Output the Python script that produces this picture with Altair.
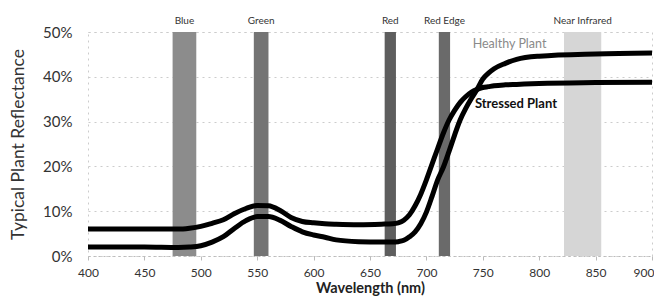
import altair as alt
import pandas as pd

# Wavelengths (nm) at which the two curves were read
wavelength = [400, 450, 480, 490, 500, 510, 520, 530, 540, 550, 560, 570, 580, 590,
              600, 610, 620, 640, 660, 670, 675, 680, 685, 690, 695, 700, 705, 710,
              715, 720, 725, 730, 735, 740, 745, 750, 755, 760, 770, 780, 800, 850, 900]

# Reflectance (%)
stressed = [6.0, 6.0, 6.0, 6.2, 6.6, 7.3, 8.1, 9.5, 10.6, 11.3, 11.2, 10.2, 8.6, 7.7,
            7.4, 7.2, 7.1, 7.0, 7.1, 7.2, 7.4, 8.0, 9.2, 11.2, 13.8, 17.0, 20.5, 24.0,
            27.4, 30.3, 32.5, 34.3, 35.6, 36.6, 37.2, 37.6, 37.8, 38.0, 38.2, 38.3, 38.5, 38.7, 38.8]

healthy = [2.0, 2.0, 1.9, 2.0, 2.3, 3.1, 4.3, 6.2, 7.9, 8.8, 8.8, 8.0, 6.6, 5.4,
           4.7, 4.2, 3.6, 3.2, 3.1, 3.1, 3.2, 3.5, 4.3, 5.4, 7.2, 9.8, 13.3, 17.0,
           19.8, 23.3, 27.0, 30.4, 33.0, 35.2, 37.2, 39.5, 40.8, 41.8, 43.0, 43.9, 44.6, 45.1, 45.3]

# Spectral bands
band_names = ["Blue", "Green", "Red", "Red Edge", "Near Infrared"]
band_start = [475, 547, 663, 711, 822]
band_end = [496, 560, 673, 721, 855]
band_colors = ["#8c8c8c", "#747474", "#5e5e5e", "#6a6a6a", "#d6d6d6"]

# Curve labels
healthy_label = ["Healthy Plant"]
healthy_label_x = [741]
healthy_label_y = [47.3]
stressed_label = ["Stressed Plant"]
stressed_label_x = [743]
stressed_label_y = [34.0]

x_ticks = [400, 450, 500, 550, 600, 650, 700, 750, 800, 850, 900]

FONT = "Lato"

curves = pd.DataFrame({
    "wavelength": wavelength * 2,
    "reflectance": stressed + healthy,
    "plant": ["Stressed Plant"] * len(wavelength) + ["Healthy Plant"] * len(wavelength),
})
bands = pd.DataFrame({"band": band_names, "start": band_start, "end": band_end,
                      "color": band_colors,
                      "mid": [(a + b) / 2 for a, b in zip(band_start, band_end)]})
hl = pd.DataFrame({"label": healthy_label, "x": healthy_label_x, "y": healthy_label_y})
sl = pd.DataFrame({"label": stressed_label, "x": stressed_label_x, "y": stressed_label_y})

xscale = alt.Scale(domain=[400, 900], nice=False)
yscale = alt.Scale(domain=[0, 50], nice=False)

xaxis = alt.Axis(values=x_ticks, title="Wavelength (nm)", grid=False, labelFlush=False,
                 labelAlign={"condition": {"test": "datum.value == 900", "value": "right"},
                             "value": "center"},
                 labelOffset={"condition": {"test": "datum.value == 900", "value": 2},
                              "value": 0},
                 labelFont=FONT, labelFontSize=12, labelColor="#333333", labelPadding=7,
                 tickSize=4, tickColor="#bbbbbb", domainColor="#bbbbbb", domainDash=[2, 3],
                 titleFont=FONT, titleFontSize=14.5, titleFontWeight="bold", titleColor="#222222",
                 titlePadding=3)
yaxis = alt.Axis(values=[0, 10, 20, 30, 40, 50], title="Typical Plant Reflectance",
                 labelExpr="datum.value + '%'", labelFlush=False,
                 labelFont=FONT, labelFontSize=15, labelColor="#333333", labelPadding=16,
                 ticks=False, domain=False,
                 grid=True, gridColor="#cccccc", gridDash=[2, 4],
                 titleFont=FONT, titleFontSize=17.5, titleFontWeight="normal", titleColor="#333333",
                 titlePadding=15)

band_rects = alt.Chart(bands).mark_rect().encode(
    x=alt.X("start:Q", scale=xscale, axis=xaxis),
    x2="end:Q",
    y=alt.value(0),
    y2=alt.value(224),
    color=alt.Color("color:N", scale=None),
)

band_text = alt.Chart(bands).mark_text(font=FONT, fontSize=10, color="#333333",
                                       baseline="middle", align="center").encode(
    x=alt.X("mid:Q", scale=xscale),
    y=alt.value(-11),
    text="band:N",
)

lines = alt.Chart(curves).mark_line(color="black", strokeWidth=5,
                                    interpolate="monotone").encode(
    x=alt.X("wavelength:Q", scale=xscale),
    y=alt.Y("reflectance:Q", scale=yscale, axis=yaxis),
    detail="plant:N",
)

healthy_text = alt.Chart(hl).mark_text(font=FONT, fontSize=12.5, align="left",
                                       baseline="middle", color="#8a8a8a").encode(
    x=alt.X("x:Q", scale=xscale),
    y=alt.Y("y:Q", scale=yscale),
    text="label:N",
)

stressed_text = alt.Chart(sl).mark_text(font=FONT, fontSize=13, align="left",
                                        baseline="middle", color="#111111",
                                        fontWeight="bold").encode(
    x=alt.X("x:Q", scale=xscale),
    y=alt.Y("y:Q", scale=yscale),
    text="label:N",
)

chart = alt.layer(band_rects, band_text, lines, healthy_text, stressed_text).properties(
    width=564, height=224,
    autosize=alt.AutoSizeParams(type="none"),
    padding={"left": 80, "top": 24, "right": 2, "bottom": 44},
    background="white",
).configure_view(stroke="#cccccc", strokeDash=[2, 4])

chart.save("out.html", embed_options={"renderer": "svg", "actions": False})
